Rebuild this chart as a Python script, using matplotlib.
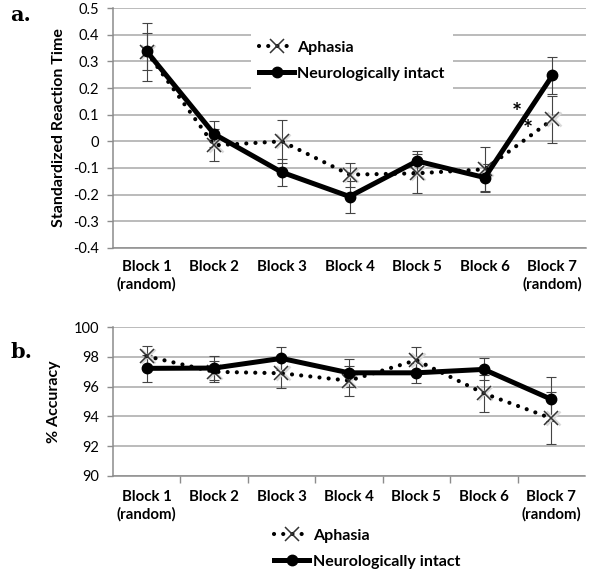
import matplotlib
matplotlib.use('Agg')
import matplotlib.pyplot as plt

# data
blocks = ['Block 1\n(random)', 'Block 2', 'Block 3', 'Block 4', 'Block 5', 'Block 6', 'Block 7\n(random)']

rt_aphasia = [0.335, -0.015, 0.0, -0.125, -0.12, -0.105, 0.082]
rt_aphasia_err = [0.11, 0.06, 0.08, 0.045, 0.072, 0.085, 0.087]
rt_intact = [0.338, 0.027, -0.116, -0.207, -0.074, -0.136, 0.247]
rt_intact_err = [0.07, 0.05, 0.05, 0.06, 0.038, 0.05, 0.07]

acc_aphasia = [98.05, 97.0, 96.9, 96.4, 97.78, 95.55, 93.87]
acc_aphasia_err = [0.7, 0.7, 1.0, 1.0, 0.9, 1.24, 1.74]
acc_intact = [97.23, 97.25, 97.9, 96.93, 96.93, 97.16, 95.15]
acc_intact_err = [0.9, 0.8, 0.78, 0.95, 0.67, 0.74, 1.47]

# asterisks between block 6 and 7 (x in category units, y in data units)
stars_x = [5.48, 5.64]
stars_y = [0.105, 0.04]

plt.rcParams['font.family'] = ['Lato', 'DejaVu Sans']
grid_col = '#a8a8a8'
x = list(range(len(blocks)))

fig = plt.figure(figsize=(6.0, 5.74), dpi=100)
ax_a = fig.add_axes([0.188, 0.568, 0.789, 0.418])
ax_b = fig.add_axes([0.188, 0.171, 0.787, 0.259])


def draw_panel(ax, aph, aph_err, intact, intact_err):
    ax.errorbar(x, aph, yerr=aph_err, fmt='none', ecolor='#444444',
                elinewidth=0.8, capsize=3.5, capthick=0.8, zorder=3)
    ax.errorbar(x, intact, yerr=intact_err, fmt='none', ecolor='#444444',
                elinewidth=0.8, capsize=3.5, capthick=0.8, zorder=3)
    # faint grey shadow under the x markers
    ax.plot([i + 0.02 for i in x], aph, linestyle='none', marker='x',
            markersize=10, mew=1.8, mec='#dadada', zorder=3.5)
    ax.plot(x, aph, color='black', lw=3.0, linestyle=(0, (0.01, 2.2)),
            dash_capstyle='round', marker='x', markersize=10, mew=1.1,
            mec='#333333', label='Aphasia', zorder=4)
    ax.plot(x, intact, color='black', lw=3.6, marker='o', markersize=7.5,
            label='Neurologically intact', zorder=5)
    ax.set_xlim(-0.5, len(blocks) - 0.5)
    ax.set_xticks(x)
    ax.set_xticklabels(blocks, fontweight='bold', fontsize=10.8, linespacing=1.25)
    ax.grid(axis='y', color=grid_col, lw=1.1)
    ax.set_axisbelow(True)
    for s in ['top', 'right']:
        ax.spines[s].set_visible(False)
    for s in ['left', 'bottom']:
        ax.spines[s].set_color('#8c8c8c')
        ax.spines[s].set_linewidth(1.1)
    ax.tick_params(axis='y', colors='#8c8c8c', labelcolor='black', labelsize=10.5,
                   length=4, width=1.0, pad=6)


# panel a
draw_panel(ax_a, rt_aphasia, rt_aphasia_err, rt_intact, rt_intact_err)
ax_a.set_ylim(-0.4, 0.5)
ax_a.set_yticks([-0.4, -0.3, -0.2, -0.1, 0, 0.1, 0.2, 0.3, 0.4, 0.5])
ax_a.set_yticklabels(['-0.4', '-0.3', '-0.2', '-0.1', '0', '0.1', '0.2', '0.3', '0.4', '0.5'])
ax_a.tick_params(axis='x', length=0, pad=9)
ax_a.set_ylabel('Standardized Reaction Time', fontweight='bold', fontsize=11.5, labelpad=5)
for sx, sy in zip(stars_x, stars_y):
    ax_a.text(sx, sy, '*', fontsize=17, fontweight='bold', ha='center', va='center', zorder=6)
leg_a = ax_a.legend(loc='upper left', bbox_to_anchor=(0.275, 0.93),
                    prop={'weight': 'bold', 'size': 11.5}, numpoints=1,
                    handlelength=2.2, handletextpad=0.2, labelspacing=0.72,
                    frameon=True, fancybox=False, borderpad=0.5)
leg_a.get_frame().set_edgecolor('none')
leg_a.get_frame().set_facecolor('white')
leg_a.get_frame().set_alpha(1)

# panel b
draw_panel(ax_b, acc_aphasia, acc_aphasia_err, acc_intact, acc_intact_err)
ax_b.set_ylim(90, 100)
ax_b.set_yticks([90, 92, 94, 96, 98, 100])
ax_b.set_xticks([i + 0.5 for i in x[:-1]], minor=True)
ax_b.tick_params(axis='x', which='major', length=0, pad=10)
ax_b.tick_params(axis='x', which='minor', length=5, color='#8c8c8c', width=1.0)
ax_b.set_ylabel('% Accuracy', fontweight='bold', fontsize=11.5, labelpad=9)
leg_b = ax_b.legend(loc='upper left', bbox_to_anchor=(0.315, -0.27),
                    prop={'weight': 'bold', 'size': 11.5}, numpoints=1,
                    handlelength=2.2, handletextpad=0.2, labelspacing=0.72,
                    frameon=False, borderpad=0.3)

fig.text(0.017, 0.973, 'a.', family='DejaVu Serif', fontweight='bold', fontsize=15, va='center')
fig.text(0.017, 0.387, 'b.', family='DejaVu Serif', fontweight='bold', fontsize=15, va='center')

fig.savefig('out.png', dpi=100)
